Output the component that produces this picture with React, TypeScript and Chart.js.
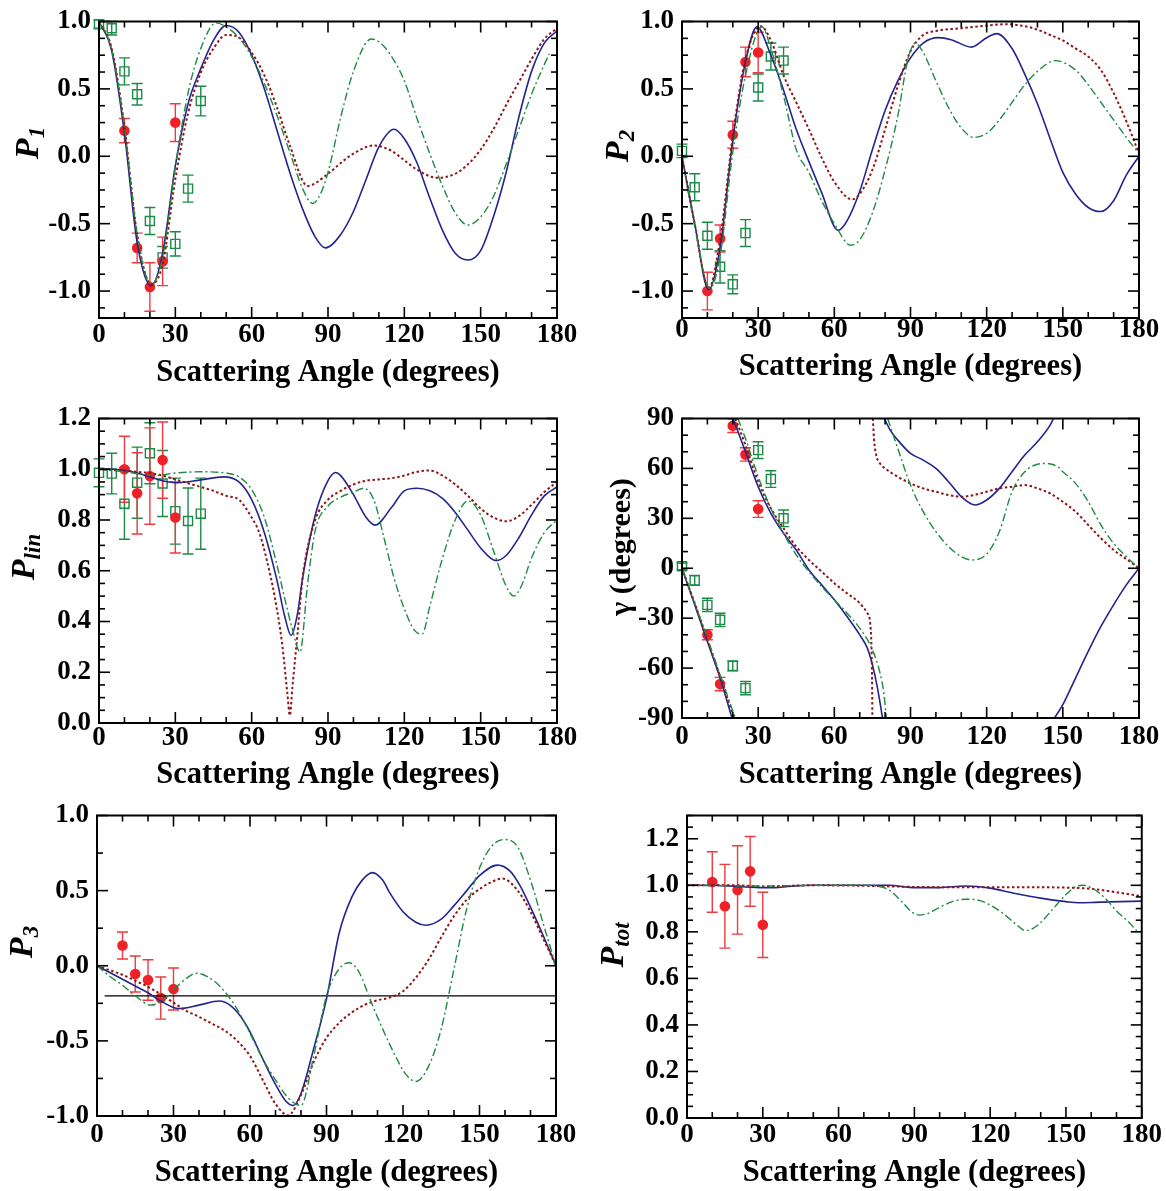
import React, { useEffect, useRef } from 'react';
import { Chart, registerables } from 'chart.js';

Chart.register(...registerables);

type XY = [number, number];

const SERIF = '"Liberation Serif", "Times New Roman", Times, serif';

// ---------------- common axis values ----------------
const xMajorTicks = [0, 30, 60, 90, 120, 150, 180];
const xMinorStep = 10;
const xTitle = 'Scattering Angle (degrees)';

// data angles
const redAngles = [10, 15, 20, 25, 30];
const greenAngles = [0, 5, 10, 15, 20, 25, 30, 35, 40];

// ---------------- P1 ----------------
const p1Solid: XY[] = [[0,1.0],[5,0.78],[10,0.17],[15,-0.64],[20.5,-0.96],[25,-0.72],[30,-0.07],[35,0.39],[40,0.65],[45,0.86],[50,0.97],[55,0.92],[60,0.75],[65,0.5],[70,0.19],[75,-0.12],[80,-0.39],[85,-0.6],[89,-0.68],[95,-0.58],[100,-0.41],[105,-0.17],[110,0.07],[116,0.2],[120,0.13],[125,-0.05],[130,-0.31],[135,-0.55],[140,-0.72],[145,-0.77],[150,-0.7],[155,-0.45],[160,-0.12],[165,0.29],[170,0.63],[175,0.84],[180,0.93]];
const p1Dotted: XY[] = [[0,1.0],[5,0.8],[10,0.22],[15,-0.58],[20.5,-0.95],[25,-0.8],[30,-0.17],[35,0.32],[40,0.62],[45,0.8],[50,0.9],[55,0.88],[60,0.77],[65,0.6],[70,0.36],[75,0.08],[82,-0.22],[90,-0.13],[95,-0.05],[100,0.02],[108,0.08],[115,0.04],[120,-0.03],[125,-0.1],[133,-0.16],[140,-0.13],[145,-0.06],[150,0.05],[155,0.2],[160,0.38],[165,0.55],[170,0.72],[175,0.87],[180,0.95]];
const p1DashDot: XY[] = [[0,1.0],[5,0.79],[10,0.22],[15,-0.58],[20.5,-0.95],[25,-0.75],[30,-0.08],[35,0.47],[40,0.8],[46,0.99],[50,0.96],[55,0.88],[60,0.74],[65,0.54],[70,0.3],[75,0.03],[80,-0.24],[84,-0.35],[87,-0.28],[90,-0.12],[95,0.29],[100,0.63],[107,0.87],[110,0.85],[115,0.74],[120,0.56],[125,0.28],[130,0.02],[135,-0.22],[140,-0.42],[145,-0.51],[150,-0.45],[155,-0.3],[160,-0.06],[165,0.2],[170,0.46],[175,0.68],[177,0.76]];
const p1RedY = [0.19, -0.68, -0.97, -0.78, 0.25];
const p1RedErr = [0.09, 0.11, 0.18, 0.18, 0.14];
const p1GreenY = [0.98, 0.95, 0.63, 0.46, -0.48, -0.75, -0.65, -0.24, 0.41];
const p1GreenErr = [0.03, 0.05, 0.1, 0.08, 0.1, 0.08, 0.09, 0.1, 0.11];
const p1YTicks = [-1.0, -0.5, 0.0, 0.5, 1.0];

// ---------------- P2 ----------------
const p2Solid: XY[] = [[0,0],[5,-0.5],[10.5,-0.99],[15,-0.68],[20,0.12],[25,0.7],[29.5,0.96],[35,0.75],[40,0.49],[45,0.2],[50,-0.04],[55,-0.27],[61.5,-0.55],[65,-0.48],[70,-0.26],[75,0.05],[80,0.34],[85,0.56],[90,0.73],[95,0.84],[101,0.88],[106,0.865],[114,0.81],[120,0.88],[124,0.91],[130,0.8],[135,0.61],[140,0.39],[145,0.13],[150,-0.12],[155,-0.28],[160,-0.38],[165,-0.41],[170,-0.33],[175,-0.14],[180,0]];
const p2Dotted: XY[] = [[0,0],[5,-0.5],[10.5,-0.98],[15,-0.62],[20,0.15],[25,0.72],[31,0.965],[35,0.86],[40,0.6],[45,0.4],[50,0.2],[55,-0.01],[60,-0.19],[67,-0.32],[70,-0.28],[75,-0.1],[80,0.2],[85,0.52],[90,0.78],[95,0.9],[100,0.93],[110,0.95],[120,0.97],[128,0.98],[135,0.965],[140,0.94],[145,0.9],[150,0.86],[155,0.8],[160,0.74],[165,0.64],[170,0.47],[175,0.26],[180,0.02]];
const p2DashDot: XY[] = [[0,0],[5,-0.52],[11,-0.98],[15,-0.74],[20,0.03],[25,0.6],[31.5,0.96],[35,0.8],[40,0.45],[45,0.05],[50,-0.12],[55,-0.33],[60,-0.5],[66.5,-0.66],[70,-0.62],[75,-0.42],[80,-0.1],[85,0.3],[89,0.72],[92,0.84],[95,0.77],[100,0.56],[105,0.36],[110,0.21],[115,0.14],[120,0.17],[125,0.27],[130,0.4],[135,0.53],[140,0.63],[147,0.71],[155,0.64],[160,0.53],[165,0.4],[170,0.27],[175,0.14],[180,0.02]];
const p2RedY = [-1.0, -0.61, 0.16, 0.7, 0.77];
const p2RedErr = [0.14, 0.1, 0.1, 0.11, 0.15];
const p2GreenY = [0.04, -0.23, -0.59, -0.82, -0.95, -0.57, 0.51, 0.74, 0.71];
const p2GreenErr = [0.05, 0.1, 0.1, 0.12, 0.07, 0.1, 0.1, 0.1, 0.1];

// ---------------- P_lin ----------------
const plinSolid: XY[] = [[0,1.0],[5,1.0],[10,0.995],[15,0.985],[20,0.97],[25,0.955],[31,0.947],[40,0.958],[49,0.97],[55,0.95],[60,0.88],[65,0.75],[70,0.56],[73,0.42],[75.5,0.345],[78,0.43],[80,0.57],[85,0.82],[90,0.955],[93,0.987],[95,0.975],[100,0.9],[105,0.81],[108.5,0.78],[115,0.85],[120,0.915],[125,0.925],[130,0.915],[135,0.885],[140,0.83],[145,0.76],[150,0.69],[156,0.64],[160,0.66],[165,0.73],[170,0.82],[175,0.895],[180,0.93]];
const plinDotted: XY[] = [[0,1.0],[10,0.995],[15,0.99],[20,0.985],[25,0.975],[30,0.96],[35,0.945],[40,0.93],[45,0.915],[50,0.895],[55,0.88],[60,0.81],[63,0.75],[66,0.64],[69,0.5],[72,0.31],[74,0.12],[75,0.03],[76,0.14],[78,0.35],[80,0.57],[85,0.8],[90,0.88],[95,0.915],[100,0.94],[105,0.955],[110,0.96],[115,0.965],[120,0.975],[125,0.99],[130,0.995],[135,0.975],[140,0.94],[145,0.895],[150,0.845],[155,0.81],[160,0.795],[165,0.815],[170,0.86],[175,0.91],[180,0.95]];
const plinDashDot: XY[] = [[0,1.0],[10,0.99],[22,0.975],[30,0.985],[40,0.99],[50,0.985],[55,0.97],[60,0.92],[65,0.81],[70,0.62],[73,0.49],[76,0.37],[79,0.28],[82,0.55],[85,0.76],[90,0.855],[95,0.89],[100,0.91],[104,0.925],[108,0.88],[112,0.73],[116,0.57],[120,0.45],[124,0.365],[127,0.35],[130,0.46],[135,0.65],[140,0.8],[145,0.875],[150,0.82],[155,0.68],[160,0.54],[163,0.5],[166,0.54],[170,0.65],[175,0.75],[180,0.8]];
const plinRedY = [1.0, 0.905, 0.973, 1.036, 0.81];
const plinRedErr = [0.13, 0.16, 0.19, 0.15, 0.14];
const plinGreenY = [0.986, 0.983, 0.864, 0.947, 1.063, 0.944, 0.835, 0.796, 0.825];
const plinGreenErr = [0.055, 0.08, 0.14, 0.14, 0.12, 0.13, 0.13, 0.13, 0.14];
const plinYTicks = [0.0, 0.2, 0.4, 0.6, 0.8, 1.0, 1.2];

// ---------------- gamma ----------------
const gSolid1: XY[] = [[0,0],[5,-22],[10,-44],[15,-66],[19.7,-90]];
const gSolid2: XY[] = [[20.1,90],[25,70],[30,49],[35,33],[40,21],[45,11],[50,-1],[55,-10],[60,-19],[65,-29],[70,-40],[73,-48],[75,-58],[77,-72],[79,-90]];
const gSolid3: XY[] = [[79.7,90],[82,83],[85,77],[90,69],[95,65],[100,60],[105,52],[110,43],[115.5,38],[120,41],[125,48],[130,58],[135,68],[140,76],[145,86],[146.3,90]];
const gSolid4: XY[] = [[146.7,-90],[150,-82],[155,-66],[160,-50],[165,-35],[170,-22],[175,-10],[180,0]];
const gDotted1: XY[] = [[0,0],[5,-21],[10,-43],[15,-65],[20.5,-90]];
const gDotted2: XY[] = [[21,90],[25,74],[30,52],[35,36],[40,24],[45,13],[50,5],[55,-2],[60,-9],[65,-15],[70,-21],[73,-27],[74.2,-34],[74.8,-60],[75,-90]];
const gDotted3: XY[] = [[75.2,90],[75.6,78],[76.5,68],[78,63],[80,60],[85,55],[90,51],[95,48],[100,46],[105,44],[110,43],[115,44],[120,46],[125,48],[130,49],[135,50],[140,48],[145,45],[150,40],[155,34],[160,26],[165,18],[170,11],[175,5.5],[180,0]];
const gDash1: XY[] = [[0,0],[5,-21],[10,-42],[15,-64],[21,-90]];
const gDash2: XY[] = [[22,90],[25,78],[30,55],[35,36],[40,21],[45,8],[50,-2],[55,-11],[60,-19],[65,-27],[70,-36],[75,-49],[78,-63],[79.5,-75],[80.5,-90]];
const gDash3: XY[] = [[81,90],[85,72],[90,50],[95,34],[100,22],[105,13],[110,7],[114,5],[120,8.5],[125,22],[130,46],[135,58],[140,62.5],[143,63],[148,61],[150,58],[155,51],[160,40],[165,26],[170,15],[175,7],[180,0]];
const gammaRedY = [-40, -69.6, 85.6, 68.4, 35.6];
const gammaRedErr = [3, 4, 4, 4, 5];
const gammaGreenY = [1.2, -7.3, -22, -31, -58.7, -72, 71, 53.6, 30];
const gammaGreenErr = [2, 3, 4, 4, 3, 4, 5, 5, 5];
const gammaYTicks = [-90, -60, -30, 0, 30, 60, 90];

// ---------------- P3 ----------------
const p3Solid: XY[] = [[0,0],[5,-0.045],[10,-0.09],[15,-0.135],[20,-0.18],[25,-0.235],[32,-0.285],[40,-0.262],[48,-0.235],[52,-0.26],[56,-0.33],[60,-0.44],[65,-0.62],[70,-0.79],[74,-0.9],[77,-0.93],[80,-0.85],[85,-0.55],[90,-0.22],[95,0.22],[100,0.46],[104,0.57],[108,0.62],[112,0.57],[115,0.48],[120,0.36],[125,0.29],[129,0.27],[135,0.31],[140,0.4],[145,0.5],[150,0.6],[157,0.67],[162,0.63],[166,0.53],[170,0.39],[175,0.2],[180,0]];
const p3Dotted: XY[] = [[0,0],[5,-0.03],[10,-0.06],[15,-0.1],[20,-0.14],[25,-0.19],[30,-0.245],[35,-0.3],[40,-0.34],[45,-0.385],[50,-0.43],[55,-0.5],[60,-0.6],[65,-0.76],[70,-0.92],[75,-0.995],[80,-0.86],[85,-0.64],[90,-0.48],[95,-0.38],[100,-0.31],[105,-0.26],[110,-0.23],[115,-0.21],[120,-0.17],[125,-0.08],[130,0.04],[135,0.19],[140,0.33],[145,0.44],[150,0.51],[155,0.56],[159,0.58],[165,0.5],[170,0.36],[175,0.18],[180,0]];
const p3DashDot: XY[] = [[0,0],[5,-0.07],[10,-0.13],[15,-0.2],[21,-0.262],[25,-0.24],[30,-0.16],[35,-0.085],[39,-0.05],[45,-0.09],[50,-0.17],[55,-0.29],[60,-0.45],[65,-0.62],[70,-0.76],[75,-0.88],[80,-0.93],[85,-0.6],[90,-0.2],[95,-0.02],[99,0.02],[103,-0.05],[107,-0.22],[112,-0.42],[117,-0.6],[121,-0.72],[125,-0.77],[130,-0.67],[135,-0.42],[140,-0.02],[145,0.38],[150,0.65],[155,0.8],[160,0.84],[165,0.79],[170,0.57],[175,0.28],[180,0]];
const p3RefLineX = [3, 180];
const p3RefLineY = [-0.2, -0.2];
const p3RedY = [0.135, -0.055, -0.095, -0.215, -0.155];
const p3RedErr = [0.09, 0.12, 0.135, 0.14, 0.14];
const p3YTicks = [-1.0, -0.5, 0.0, 0.5, 1.0];

// ---------------- P_tot ----------------
const ptotSolid: XY[] = [[0,1.0],[10,1.0],[20,0.995],[30,0.99],[35,0.99],[40,0.995],[50,1.0],[60,1.0],[70,1.0],[80,1.0],[90,0.99],[100,0.99],[110,0.997],[115,0.995],[120,0.988],[130,0.965],[140,0.945],[150,0.93],[155,0.925],[160,0.926],[167,0.929],[180,0.932]];
const ptotDotted: XY[] = [[0,1.0],[20,1.0],[30,0.995],[50,1.0],[70,0.998],[90,0.993],[110,0.992],[130,0.992],[150,0.99],[160,0.985],[170,0.97],[180,0.953]];
const ptotDashDot: XY[] = [[0,1.0],[20,0.998],[30,0.997],[50,1.0],[70,1.0],[76,0.995],[80,0.98],[85,0.93],[89,0.885],[92,0.872],[95,0.878],[100,0.905],[105,0.93],[110,0.94],[115,0.937],[120,0.915],[125,0.88],[130,0.835],[134,0.805],[137,0.815],[140,0.84],[145,0.9],[150,0.96],[154,0.995],[157,1.0],[160,0.99],[165,0.95],[170,0.89],[175,0.84],[178,0.805]];
const ptotRedY = [1.014, 0.91, 0.98, 1.06, 0.83];
const ptotRedErr = [0.13, 0.18, 0.19, 0.15, 0.14];
const ptotYTicks = [0.0, 0.2, 0.4, 0.6, 0.8, 1.0, 1.2];

// ---------------- styles ----------------
const COLORS = {
  solid: '#24248f',
  dotted: '#8e1616',
  dash: '#1f8a40',
  red: '#ee2028',
  redBar: '#ef3a3f',
  green: '#1d8b48',
};

type Part = { text: string; font: string; dy?: number };

interface PanelSpec {
  id: string;
  left: number; top: number; width: number; height: number;
  area: { l: number; t: number; r: number; b: number };
  xAxisH: number; xTickPad: number;
  yMin: number; yMax: number; yTicks: number[]; yMinorStep: number; yDec: number;
  solid: XY[][]; dotted: XY[][]; dash: XY[][];
  red?: { x: number[]; y: number[]; e: number[] };
  green?: { x: number[]; y: number[]; e: number[] };
  ref?: { x: number[]; y: number[] };
  title: { x: number; y: number; parts: Part[] };
}

const mainFont = `italic bold 34px ${SERIF}`;
const subFont = `italic bold 23px ${SERIF}`;
const TICK_SIZE = 27;

const specs: PanelSpec[] = [
  {
    id: 'p1', left: 0, top: 0, width: 583, height: 397,
    area: { l: 99, t: 14, r: 557, b: 318 }, xAxisH: 73, xTickPad: 4,
    yMin: -1.2, yMax: 1.0, yTicks: p1YTicks, yMinorStep: 0.125, yDec: 1,
    solid: [p1Solid], dotted: [p1Dotted], dash: [p1DashDot],
    red: { x: redAngles, y: p1RedY, e: p1RedErr },
    green: { x: greenAngles, y: p1GreenY, e: p1GreenErr },
    title: { x: 29, y: 143, parts: [{ text: 'P', font: mainFont }, { text: '1', font: subFont, dy: 9 }] },
  },
  {
    id: 'p2', left: 583, top: 0, width: 583, height: 397,
    area: { l: 682, t: 14, r: 1139, b: 318 }, xAxisH: 67, xTickPad: -1,
    yMin: -1.2, yMax: 1.0, yTicks: p1YTicks, yMinorStep: 0.125, yDec: 1,
    solid: [p2Solid], dotted: [p2Dotted], dash: [p2DashDot],
    red: { x: redAngles, y: p2RedY, e: p2RedErr },
    green: { x: greenAngles, y: p2GreenY, e: p2GreenErr },
    title: { x: 619, y: 146, parts: [{ text: 'P', font: mainFont }, { text: '2', font: subFont, dy: 9 }] },
  },
  {
    id: 'plin', left: 0, top: 397, width: 583, height: 397,
    area: { l: 99, t: 418, r: 557, b: 723 }, xAxisH: 70, xTickPad: 2,
    yMin: 0, yMax: 1.2, yTicks: plinYTicks, yMinorStep: 0.05, yDec: 1,
    solid: [plinSolid], dotted: [plinDotted], dash: [plinDashDot],
    red: { x: redAngles, y: plinRedY, e: plinRedErr },
    green: { x: greenAngles, y: plinGreenY, e: plinGreenErr },
    title: { x: 25, y: 557, parts: [{ text: 'P', font: mainFont }, { text: 'lin', font: subFont, dy: 9 }] },
  },
  {
    id: 'gamma', left: 583, top: 397, width: 583, height: 397,
    area: { l: 682, t: 413, r: 1139, b: 718 }, xAxisH: 75, xTickPad: 6,
    yMin: -90, yMax: 90, yTicks: gammaYTicks, yMinorStep: 10, yDec: 0,
    solid: [gSolid1, gSolid2, gSolid3, gSolid4], dotted: [gDotted1, gDotted2, gDotted3], dash: [gDash1, gDash2, gDash3],
    red: { x: redAngles, y: gammaRedY, e: gammaRedErr },
    green: { x: greenAngles, y: gammaGreenY, e: gammaGreenErr },
    title: { x: 622, y: 547, parts: [{ text: 'γ (degrees)', font: `bold 30px ${SERIF}` }] },
  },
  {
    id: 'p3', left: 0, top: 794, width: 583, height: 397,
    area: { l: 97, t: 812, r: 556, b: 1116 }, xAxisH: 75, xTickPad: 6,
    yMin: -1.0, yMax: 1.0, yTicks: p3YTicks, yMinorStep: 0.25, yDec: 1,
    solid: [p3Solid], dotted: [p3Dotted], dash: [p3DashDot],
    red: { x: redAngles, y: p3RedY, e: p3RedErr },
    ref: { x: p3RefLineX, y: p3RefLineY },
    title: { x: 23, y: 942, parts: [{ text: 'P', font: mainFont }, { text: '3', font: subFont, dy: 9 }] },
  },
  {
    id: 'ptot', left: 583, top: 794, width: 583, height: 397,
    area: { l: 687, t: 812.5, r: 1145, b: 1118 }, xAxisH: 73, xTickPad: 4,
    yMin: 0, yMax: 1.3, yTicks: ptotYTicks, yMinorStep: 0.05, yDec: 1,
    solid: [ptotSolid], dotted: [ptotDotted], dash: [ptotDashDot],
    red: { x: redAngles, y: ptotRedY, e: ptotRedErr },
    title: { x: 614, y: 945, parts: [{ text: 'P', font: mainFont }, { text: 'tot', font: subFont, dy: 9 }] },
  },
];

const toPts = (a: XY[]) => a.map(([x, y]) => ({ x, y }));
const zip = (xs: number[], ys: number[]) => xs.map((x, i) => ({ x, y: ys[i] }));

function minorValues(min: number, max: number, step: number): number[] {
  const out: number[] = [];
  const start = Math.ceil(min / step - 1e-9);
  const end = Math.floor(max / step + 1e-9);
  for (let k = start; k <= end; k++) out.push(+(k * step).toFixed(6));
  return out;
}

function makeFramePlugin(s: PanelSpec) {
  return {
    id: 'frameTicks_' + s.id,
    afterDatasetsDraw(chart: any) {
      const { ctx, chartArea } = chart;
      const { left, right, top, bottom } = chartArea;
      const xs = chart.scales.x;
      const ys = chart.scales.y;
      const seg = (x1: number, y1: number, x2: number, y2: number) => {
        ctx.beginPath(); ctx.moveTo(x1, y1); ctx.lineTo(x2, y2); ctx.stroke();
      };
      ctx.save();
      ctx.strokeStyle = '#000';
      ctx.lineWidth = 1.6;
      const MAJ = 11, MIN = 6;
      minorValues(0, 180, xMinorStep).forEach((v) => {
        const px = xs.getPixelForValue(v);
        const len = xMajorTicks.some((m) => Math.abs(m - v) < 1e-6) ? MAJ : MIN;
        seg(px, bottom, px, bottom - len);
        seg(px, top, px, top + len);
      });
      minorValues(s.yMin, s.yMax, s.yMinorStep).forEach((v) => {
        const py = ys.getPixelForValue(v);
        const len = s.yTicks.some((m) => Math.abs(m - v) < 1e-6) ? MAJ : MIN;
        seg(left, py, left + len, py);
        seg(right, py, right - len, py);
      });
      ctx.lineWidth = 2;
      ctx.strokeRect(left, top, right - left, bottom - top);
      ctx.restore();
    },
  };
}

const errorBarPlugin = {
  id: 'errorBars',
  beforeDatasetsDraw(chart: any) {
    const { ctx } = chart;
    const xs = chart.scales.x;
    const ys = chart.scales.y;
    chart.data.datasets.forEach((ds: any) => {
      if (!ds.errorBars) return;
      ctx.save();
      ctx.strokeStyle = ds.errorColor;
      ctx.lineWidth = 1.4;
      ds.data.forEach((p: any, i: number) => {
        const e = ds.errorBars[i];
        const px = xs.getPixelForValue(p.x);
        const yT = ys.getPixelForValue(p.y + e);
        const yB = ys.getPixelForValue(p.y - e);
        ctx.beginPath();
        ctx.moveTo(px, yT); ctx.lineTo(px, yB);
        ctx.moveTo(px - 5.5, yT); ctx.lineTo(px + 5.5, yT);
        ctx.moveTo(px - 5.5, yB); ctx.lineTo(px + 5.5, yB);
        ctx.stroke();
      });
      ctx.restore();
    });
  },
};

function makeTitlePlugin(s: PanelSpec) {
  return {
    id: 'yTitle_' + s.id,
    afterDraw(chart: any) {
      const { ctx } = chart;
      const t = s.title;
      ctx.save();
      ctx.translate(t.x - s.left, t.y - s.top);
      ctx.rotate(-Math.PI / 2);
      ctx.fillStyle = '#000';
      ctx.textBaseline = 'middle';
      ctx.textAlign = 'left';
      let total = 0;
      const widths = t.parts.map((p) => {
        ctx.font = p.font;
        const w = ctx.measureText(p.text).width;
        total += w;
        return w;
      });
      let cx = -total / 2;
      t.parts.forEach((p, i) => {
        ctx.font = p.font;
        ctx.fillText(p.text, cx, p.dy || 0);
        cx += widths[i];
      });
      ctx.restore();
    },
  };
}

function buildConfig(s: PanelSpec): any {
  const datasets: any[] = [];
  const curve = (arr: XY[], color: string, width: number, dash: number[]) => ({
    data: toPts(arr),
    showLine: true,
    borderColor: color,
    backgroundColor: color,
    borderWidth: width,
    borderDash: dash,
    pointRadius: 0,
    pointHoverRadius: 0,
    fill: false,
    cubicInterpolationMode: 'monotone',
    order: 0,
  });
  s.dash.forEach((a) => datasets.push(curve(a, COLORS.dash, 1.4, [8, 3, 2, 3])));
  s.dotted.forEach((a) => datasets.push(curve(a, COLORS.dotted, 2, [2.5, 2.5])));
  s.solid.forEach((a) => datasets.push(curve(a, COLORS.solid, 1.6, [])));
  if (s.ref) {
    datasets.push({
      data: zip(s.ref.x, s.ref.y), showLine: true, borderColor: '#000', borderWidth: 1.3,
      pointRadius: 0, fill: false, order: 0,
    });
  }
  if (s.green) {
    datasets.push({
      data: zip(s.green.x, s.green.y),
      errorBars: s.green.e, errorColor: COLORS.green,
      showLine: false, pointStyle: 'rect', pointRadius: 6.4, pointHoverRadius: 6.4,
      borderColor: COLORS.green, backgroundColor: 'rgba(255,255,255,0)', borderWidth: 1.4,
      clip: false, order: 2,
    });
  }
  if (s.red) {
    datasets.push({
      data: zip(s.red.x, s.red.y),
      errorBars: s.red.e, errorColor: COLORS.redBar,
      showLine: false, pointStyle: 'circle', pointRadius: 5.3, pointHoverRadius: 5.3,
      borderColor: COLORS.red, backgroundColor: COLORS.red, borderWidth: 0,
      clip: false, order: 1,
    });
  }

  const localB = s.area.b - s.top;
  const padBottom = s.height - localB - s.xAxisH;
  const tickFont = { family: SERIF, weight: 'bold', size: TICK_SIZE, lineHeight: 1 };

  return {
    type: 'scatter',
    data: { datasets },
    options: {
      animation: false,
      responsive: false,
      maintainAspectRatio: false,
      events: [],
      layout: {
        padding: {
          left: 0,
          top: s.area.t - s.top,
          right: s.left + s.width - s.area.r,
          bottom: padBottom,
        },
      },
      plugins: { legend: { display: false }, tooltip: { enabled: false } },
      scales: {
        x: {
          type: 'linear', min: 0, max: 180,
          afterBuildTicks: (sc: any) => { sc.ticks = xMajorTicks.map((v) => ({ value: v })); },
          afterFit: (sc: any) => { sc.height = s.xAxisH; },
          grid: { display: false, drawTicks: false },
          border: { display: false },
          ticks: {
            color: '#000', font: tickFont, padding: s.xTickPad, maxRotation: 0, minRotation: 0,
            autoSkip: false, callback: (v: any) => String(v),
          },
          title: {
            display: true, text: xTitle, color: '#000',
            font: { family: SERIF, weight: 'bold', size: 30.5, lineHeight: 1.2 },
            padding: { top: 0, bottom: 0 },
          },
        },
        y: {
          type: 'linear', min: s.yMin, max: s.yMax,
          afterBuildTicks: (sc: any) => { sc.ticks = s.yTicks.map((v) => ({ value: v })); },
          afterFit: (sc: any) => { sc.width = s.area.l - s.left; },
          grid: { display: false, drawTicks: false },
          border: { display: false },
          ticks: {
            color: '#000', font: tickFont, padding: 8, autoSkip: false,
            callback: (v: any) => Number(v).toFixed(s.yDec),
          },
        },
      },
    },
    plugins: [errorBarPlugin, makeFramePlugin(s), makeTitlePlugin(s)],
  };
}

function Panel({ spec }: { spec: PanelSpec }) {
  const ref = useRef<HTMLCanvasElement>(null);
  useEffect(() => {
    const chart = new Chart(ref.current as HTMLCanvasElement, buildConfig(spec));
    return () => chart.destroy();
  }, [spec]);
  return (
    <canvas
      ref={ref}
      width={spec.width}
      height={spec.height}
      style={{ position: 'absolute', left: spec.left, top: spec.top, width: spec.width, height: spec.height }}
    />
  );
}

export default function App() {
  return (
    <div style={{ position: 'absolute', left: 0, top: 0, width: 1166, height: 1191, background: '#ffffff', overflow: 'hidden' }}>
      {specs.map((s) => (
        <Panel key={s.id} spec={s} />
      ))}
    </div>
  );
}
